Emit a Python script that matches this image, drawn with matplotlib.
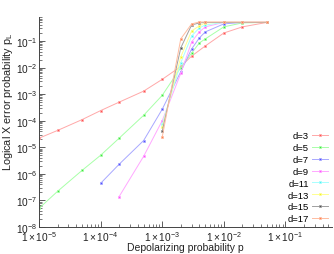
import matplotlib
matplotlib.use("Agg")
import matplotlib.pyplot as plt
from matplotlib.ticker import FixedLocator, LogLocator, NullFormatter

plt.rcParams['font.family'] = ['Liberation Sans', 'DejaVu Sans']
plt.rcParams['mathtext.fontset'] = 'custom'
plt.rcParams['mathtext.rm'] = 'Liberation Sans'
plt.rcParams['mathtext.it'] = 'Liberation Sans:italic'

labels = ["d=3", "d=5", "d=7", "d=9", "d=11", "d=13", "d=15", "d=17"]
line_colors = ["#ffa8a8", "#a8ffa8", "#a8a8ff", "#ffa8ff", "#a8ffff", "#ffff90", "#a0a0a0", "#ffbca0"]
mark_colors = ["#ff5050", "#40e040", "#5050ff", "#ff50ff", "#50f0f0", "#f0f030", "#505050", "#ff8050"]

p3 = [1e-5, 2e-5, 5e-5, 1e-4, 2e-4, 5e-4, 1e-3, 2e-3, 3e-3, 5e-3, 1e-2, 2e-2, 5e-2]
pl3 = [2.2e-5, 4.3e-5, 1.1e-4, 2.4e-4, 5e-4, 1.3e-3, 3.6e-3, 1.1e-2, 2.7e-2, 6.5e-2, 0.2, 0.34, 0.5]

p5 = [1e-5, 2e-5, 5e-5, 1e-4, 2e-4, 5e-4, 1e-3, 2e-3, 3e-3, 4e-3, 5e-3, 1e-2, 2e-2, 5e-2]
pl5 = [5e-8, 2.2e-7, 1.35e-6, 5e-6, 2.2e-5, 1.6e-4, 9e-4, 1.0e-2, 3.5e-2, 8.4e-2, 0.12, 0.34, 0.48, 0.5]

p7 = [1e-4, 2e-4, 5e-4, 1e-3, 2e-3, 3e-3, 4e-3, 5e-3, 1e-2, 2e-2, 5e-2]
pl7 = [4.4e-7, 2.3e-6, 1.8e-5, 2.7e-4, 7e-3, 5e-2, 0.13, 0.22, 0.44, 0.5, 0.5]

p9 = [2e-4, 5e-4, 1e-3, 2e-3, 3e-3, 4e-3, 5e-3, 1e-2, 2e-2, 5e-2]
pl9 = [1.4e-7, 4.6e-6, 1e-4, 6e-3, 9.2e-2, 0.22, 0.34, 0.5, 0.5, 0.5]

p11 = [1e-3, 2e-3, 3e-3, 4e-3, 5e-3, 1e-2, 2e-2, 5e-2]
pl11 = [7.4e-5, 1.5e-2, 0.154, 0.31, 0.40, 0.5, 0.5, 0.5]

p13 = [1e-3, 2e-3, 3e-3, 4e-3, 5e-3, 1e-2, 2e-2, 5e-2]
pl13 = [5.6e-5, 2.5e-2, 0.24, 0.37, 0.48, 0.5, 0.5, 0.5]

p15 = [1e-3, 2e-3, 3e-3, 4e-3, 5e-3, 1e-2, 2e-2, 5e-2]
pl15 = [4e-5, 5.5e-2, 0.40, 0.48, 0.5, 0.5, 0.5, 0.5]

p17 = [1e-3, 2e-3, 3e-3, 4e-3, 5e-3, 1e-2, 2e-2, 5e-2]
pl17 = [2.4e-5, 0.12, 0.44, 0.52, 0.52, 0.52, 0.52, 0.52]

series_p = [p3, p5, p7, p9, p11, p13, p15, p17]
series_pl = [pl3, pl5, pl7, pl9, pl11, pl13, pl15, pl17]

xticks = [1e-5, 1e-4, 1e-3, 1e-2, 1e-1]
xticklabels = [r"$1\times10^{-5}$", r"$1\times10^{-4}$", r"$1\times10^{-3}$", r"$1\times10^{-2}$", r"$1\times10^{-1}$"]
yticks = [1e-8, 1e-7, 1e-6, 1e-5, 1e-4, 1e-3, 1e-2, 1e-1]
yticklabels = [r"$10^{-8}$", r"$10^{-7}$", r"$10^{-6}$", r"$10^{-5}$", r"$10^{-4}$", r"$10^{-3}$", r"$10^{-2}$", r"$10^{-1}$"]

fig = plt.figure(figsize=(3.34, 2.55), dpi=100)
ax = fig.add_axes([39/334, 1-228/255, (332-39)/334, (228-18)/255])

for p, pl, lab, lc, mc in zip(series_p, series_pl, labels, line_colors, mark_colors):
    ax.plot(p, pl, color=lc, lw=0.7, marker='s', ms=2.0, mfc=mc, mec=lc, mew=0.5, label=lab)

ax.set_xscale('log')
ax.set_yscale('log')
ax.set_xlim(1e-5, 0.57)
ax.set_ylim(1e-8, 0.8)

ax.xaxis.set_major_locator(FixedLocator(xticks))
ax.set_xticklabels(xticklabels)
ax.yaxis.set_major_locator(FixedLocator(yticks))
ax.set_yticklabels(yticklabels)
ax.xaxis.set_minor_locator(LogLocator(base=10, subs=range(2, 10), numticks=20))
ax.yaxis.set_minor_locator(LogLocator(base=10, subs=range(2, 10), numticks=20))
ax.xaxis.set_minor_formatter(NullFormatter())
ax.yaxis.set_minor_formatter(NullFormatter())

for s in ['top', 'right']:
    ax.spines[s].set_visible(False)
for s in ['left', 'bottom']:
    ax.spines[s].set_linewidth(0.7)
    ax.spines[s].set_color('#444444')

ax.tick_params(which='major', direction='in', length=4, width=0.6, labelsize=7.3, pad=1.5, colors='#444444', labelcolor='#222222')
ax.tick_params(which='minor', direction='in', length=2, width=0.5, colors='#444444')

ax.set_xlabel("Depolarizing probability p", fontsize=7.5, color='#222222')
ax.xaxis.set_label_coords(0.5, -0.072)
ax.set_ylabel(r"Logical X error probability p$_\mathrm{L}$", fontsize=7.8, color='#222222')
ax.yaxis.set_label_coords(-0.082, 0.6)

leg = ax.legend(loc='lower right', bbox_to_anchor=(1.0, 0.0), frameon=False, markerfirst=False,
                fontsize=6.8, handlelength=1.7, labelspacing=0.3, handletextpad=0.35, borderaxespad=0.1,
                borderpad=0.3)

fig.savefig("out.png", dpi=100)
